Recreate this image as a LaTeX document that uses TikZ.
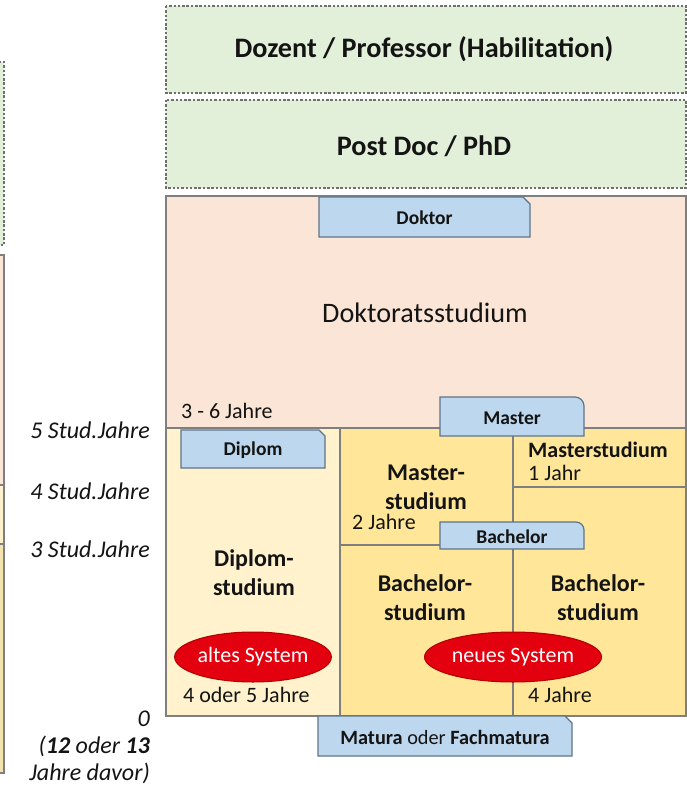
\documentclass[tikz,border=0pt]{standalone}
\usepackage{fontspec}
\setmainfont{Carlito}
\usetikzlibrary{shapes.geometric}
\definecolor{greenfill}{HTML}{E2F0D9}
\definecolor{peach}{HTML}{FBE5D6}
\definecolor{lightyel}{HTML}{FFF2CC}
\definecolor{darkyel}{HTML}{FFE699}
\definecolor{tanyel}{HTML}{F3E3AE}
\definecolor{tabblue}{HTML}{BDD7EE}
\definecolor{tabedge}{HTML}{5E7489}
\definecolor{boxedge}{HTML}{7F7F7F}
\definecolor{dashedge}{HTML}{6F6F6F}
\definecolor{redfill}{HTML}{E3000F}
\definecolor{rededge}{HTML}{B00000}
\definecolor{txt}{HTML}{141414}
\tikzset{
  greenbox/.style={fill=greenfill, draw=dashedge, line width=1.2pt, dash pattern=on 2.5pt off 1.8pt},
  stbox/.style={draw=boxedge, line width=1.2pt},
  tabshape/.style={fill=tabblue, draw=tabedge, line width=1.2pt},
  tabtext/.style={font=\bfseries\fontsize{19.5}{22}\selectfont, text=txt, inner sep=0pt},
  bigbold/.style={font=\bfseries\fontsize{28.2}{32}\selectfont, text=txt, inner sep=0pt},
  midbold/.style={font=\bfseries\fontsize{24}{29}\selectfont, text=txt, align=center, inner sep=0pt},
  plain/.style={font=\fontsize{22}{24}\selectfont, text=txt, inner sep=0pt, anchor=west},
  sidelab/.style={font=\itshape\fontsize{24}{26}\selectfont, text=txt, inner sep=0pt, anchor=east},
  sysell/.style={ellipse, fill=redfill, draw=rededge, line width=1pt, text=white,
     font=\fontsize{22}{24}\selectfont, inner sep=0pt},
}
\begin{document}
\begin{tikzpicture}[x=1pt,y=-1pt]
\useasboundingbox (0,0) rectangle (687,786);
\clip (0,0) rectangle (687,786);
% partial boxes of neighbouring diagram at the left edge
\draw[greenbox] (-40,62) rectangle (4,245);
\draw[stbox, fill=peach] (-40,255) rectangle (4,485);
\draw[stbox, fill=lightyel] (-40,485) rectangle (4,544);
\draw[stbox, fill=tanyel] (-40,544) rectangle (4,773);
% top green boxes
\draw[greenbox] (166,6) rectangle (686,93);
\node[bigbold] (dozent) at (424,49) {Dozent / Professor (Habilitation)};
\draw[greenbox] (166,100) rectangle (686,188);
\node[bigbold] (postdoc) at (424,146) {Post Doc / PhD};
% doctorate
\draw[stbox, fill=peach] (166,196) rectangle (686,428);
\node[font=\fontsize{28.2}{32}\selectfont, text=txt, inner sep=0pt] (doktorat) at (425,313) {Doktoratsstudium};
\node[plain] (dauer36) at (181,411) {3 - 6 Jahre};
% study boxes
\draw[stbox, fill=lightyel] (166,428) rectangle (340,716);
\draw[stbox, fill=darkyel] (340,428) rectangle (513,545);
\draw[stbox, fill=darkyel] (513,428) rectangle (686,487);
\draw[stbox, fill=darkyel] (340,545) rectangle (513,716);
\draw[stbox, fill=darkyel] (513,487) rectangle (686,716);
\node[midbold] (diplomst) at (254,573) {Diplom-\\studium};
\node[midbold] (masterst2) at (426,487) {Master-\\studium};
\node[plain] (dauer2) at (352,522) {2 Jahre};
\node[font=\bfseries\fontsize{22}{24}\selectfont, text=txt, inner sep=0pt, anchor=west] (masterst1) at (528,450) {Masterstudium};
\node[plain] (dauer1) at (528,473) {1 Jahr};
\node[midbold] (bachst3) at (425,598) {Bachelor-\\studium};
\node[midbold] (bachst4) at (598,598) {Bachelor-\\studium};
\node[plain] (dauer45) at (183,695) {4 oder 5 Jahre};
\node[plain] (dauer4) at (528,695) {4 Jahre};
% system ellipses
\node[sysell, minimum width=156pt, minimum height=50pt] (altes) at (253,657) {altes System};
\node[sysell, minimum width=177pt, minimum height=50pt] (neues) at (513,657) {neues System};
% tabs
\draw[tabshape] (319,197) -- (523,197) -- (530,204) -- (530,237) -- (319,237) -- cycle;
\node[tabtext] (doktor) at (424.5,218) {Doktor};
\draw[tabshape] (181,430) -- (319,430) -- (325,436) -- (325,468) -- (181,468) -- cycle;
\node[tabtext] (diplom) at (253,450) {Diplom};
\draw[tabshape] (440,397) -- (575,397) arc[start angle=-90, end angle=0, radius=9] -- (584,436) -- (440,436) -- cycle;
\node[tabtext] (master) at (512,418) {Master};
\draw[tabshape] (440,522) -- (576,522) arc[start angle=-90, end angle=0, radius=8] -- (584,549) -- (440,549) -- cycle;
\node[tabtext] (bachelor) at (512,537) {Bachelor};
\draw[tabshape] (318,716) -- (565,716) -- (572,723) -- (572,756) -- (318,756) -- cycle;
\node[tabtext, font=\fontsize{20.3}{22}\selectfont] (matura) at (445,737) {\textbf{Matura} oder \textbf{Fachmatura}};
% side labels
\node[sidelab] (j5) at (150,430) {5 Stud.Jahre};
\node[sidelab] (j4) at (150,491) {4 Stud.Jahre};
\node[sidelab] (j3) at (150,549) {3 Stud.Jahre};
\node[sidelab] (j0) at (150,719) {0};
\node[sidelab] (vor1) at (150,746) {(\textbf{12} oder \textbf{13}};
\node[sidelab] (vor2) at (150,773) {Jahre davor)};
\end{tikzpicture}
\end{document}
